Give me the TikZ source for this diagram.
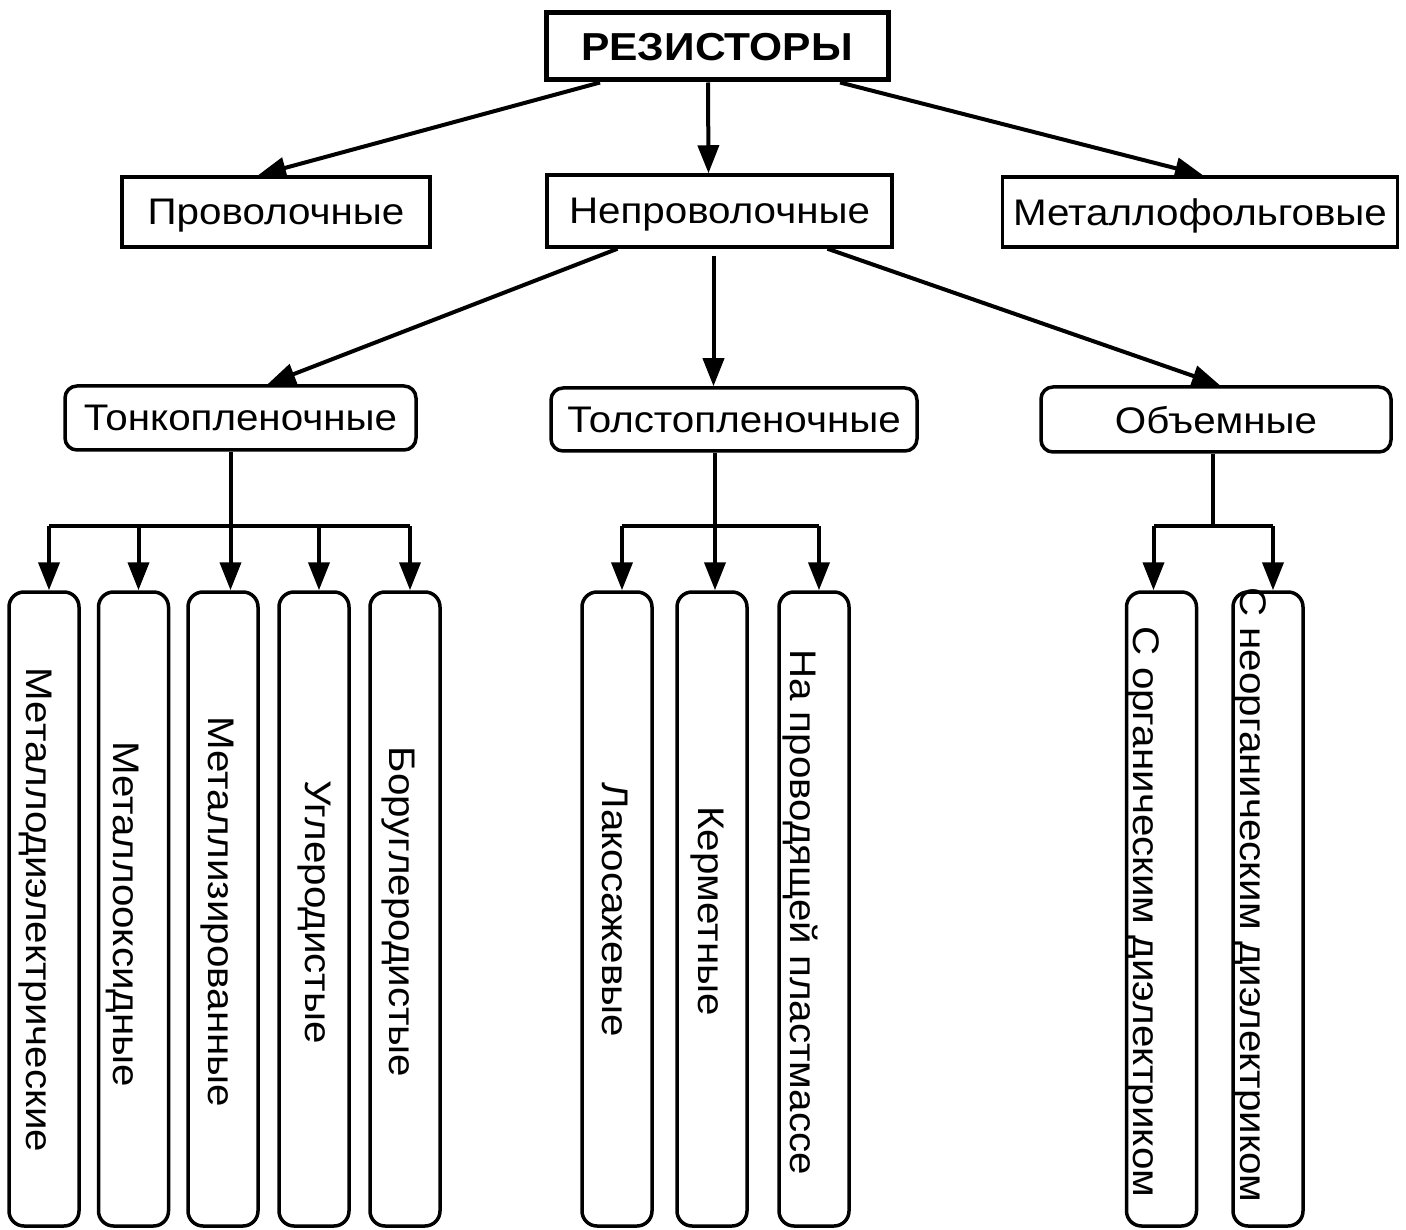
\documentclass[tikz,border=0pt]{standalone}
\usepackage{fontspec}
\setmainfont{Liberation Sans}[FakeStretch=1.09]
\usetikzlibrary{arrows.meta}

\begin{document}
\begin{tikzpicture}[x=1pt,y=-1pt,line width=4pt,
    font=\fontsize{37}{40}\selectfont,
    box/.style 2 args={draw,line width=3.5pt,inner sep=0pt,text depth=0pt,
        minimum width=#1,minimum height=#2},
    rbox/.style 2 args={box={#1}{#2},rounded corners=12pt},
    leaf/.style={draw,line width=3.5pt,rounded corners=15pt,inner sep=0pt,
        minimum width=70pt,minimum height=634pt},
    vtext/.style={rotate=-90,inner sep=0pt},
    arr/.style={-{Triangle[length=28pt,width=21pt]}}]

    \useasboundingbox (0,0) rectangle (1406,1230);

    % Корень
    \node[box={342}{67},line width=5pt,
        font=\fontsize{39}{44}\selectfont\bfseries] (res) at (717,46.5) {РЕЗИСТОРЫ};

    % Второй уровень
    \node[box={308}{70}] (wire) at (276,212) {Проволочные};
    \node[box={345}{72}] (nonwire) at (719.5,211) {Непроволочные};
    \node[box={395}{70}] (foil) at (1200,212) {Металлофольговые};
    \draw[arr] ([xshift=-117pt]res.south) -- ([xshift=-18pt]wire.north);
    \draw[arr] ([xshift=-9pt]res.south) -- ([xshift=-11pt]nonwire.north);
    \draw[arr] ([xshift=123pt]res.south) -- ([xshift=3pt]foil.north);

    % Третий уровень
    \node[rbox={351}{64}] (thin) at (240.5,418) {Тонкопленочные};
    \node[rbox={366}{63}] (thick) at (734,419.5) {Толстопленочные};
    \node[rbox={350}{65}] (bulk) at (1216,419.5) {Объемные};
    \draw[arr] ([xshift=-102pt]nonwire.south) -- ([xshift=27pt]thin.north);
    \draw[arr] ([xshift=-6pt,yshift=-7pt]nonwire.south) -- ([xshift=-20.5pt]thick.north);
    \draw[arr] ([xshift=108pt]nonwire.south) -- ([xshift=4pt]bulk.north);

    % Тонкопленочные
    \coordinate (bar) at (0,526);
    \foreach \i/\x in {1/44,2/133.5,3/223,4/314,5/405}{
        \node[leaf] (t\i) at (\x,909) {};
    }
    \draw ([xshift=5pt]t1.north |- bar) -- ([xshift=5pt]t5.north |- bar);
    \draw[arr] ([xshift=-10pt]thin.south) -- ([xshift=-10pt]thin.south |- t3.north);
    \foreach \i in {1,2,4,5}{
        \draw[arr] ([xshift=5pt]t\i.north |- bar) -- ([xshift=5pt]t\i.north);
    }
    \node[vtext] (t1txt) at (35,910) {Металлодиэлектрические};
    \node[vtext] (t2txt) at (123,914) {Металлооксидные};
    \node[vtext] (t3txt) at (217,912) {Металлизированные};
    \node[vtext] (t4txt) at (314,912) {Углеродистые};
    \node[vtext] (t5txt) at (398,912) {Боруглеродистые};

    % Толстопленочные
    \foreach \i/\x in {1/617,2/712,3/814}{
        \node[leaf] (k\i) at (\x,909) {};
    }
    \draw ([xshift=5pt]k1.north |- bar) -- ([xshift=5pt]k3.north |- bar);
    \draw[arr] ([xshift=-19pt]thick.south) -- ([xshift=-19pt]thick.south |- k2.north);
    \foreach \i in {1,3}{
        \draw[arr] ([xshift=5pt]k\i.north |- bar) -- ([xshift=5pt]k\i.north);
    }
    \node[vtext] (k1txt) at (615,910) {Лакосажевые};
    \node[vtext] (k2txt) at (707,911) {Керметные};
    \node[vtext] (k3txt) at (800,912) {На проводящей пластмассе};

    % Объемные
    \foreach \i/\x in {1/1161.5,2/1268}{
        \node[leaf] (v\i) at (\x,909) {};
    }
    \draw ([xshift=-3pt]bulk.south) -- ([xshift=-3pt]bulk.south |- bar);
    \draw ([xshift=-8pt]v1.north |- bar) -- ([xshift=5pt]v2.north |- bar);
    \draw[arr] ([xshift=-8pt]v1.north |- bar) -- ([xshift=-8pt]v1.north);
    \draw[arr] ([xshift=5pt]v2.north |- bar) -- ([xshift=5pt]v2.north);
    \node[vtext] (v1txt) at (1143,912) {С органическим диэлектриком};
    \node[vtext] (v2txt) at (1250,895) {С неорганическим диэлектриком};

\end{tikzpicture}
\end{document}
